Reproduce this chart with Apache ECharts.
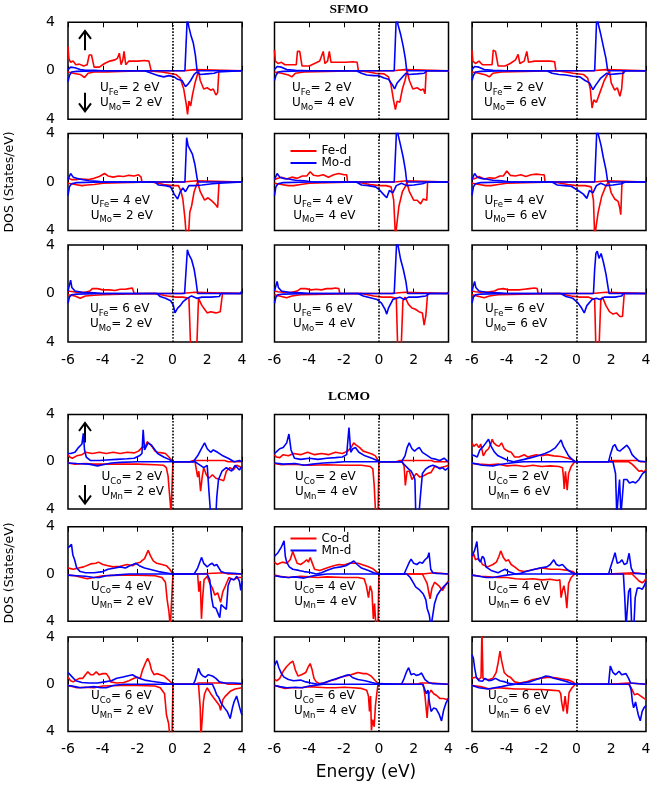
<!DOCTYPE html>
<html>
<head>
<meta charset="utf-8">
<script src="https://cdn.jsdelivr.net/npm/echarts@6/dist/echarts.min.js"></script>
<style>
html,body{margin:0;padding:0;background:#fff}
#main{width:667px;height:785px}
</style>
</head>
<body>
<div id="main"></div>
<script>
// U values along rows (first element) and columns (second element)
const uVals = [2, 4, 6];

// ---- SFMO : Fe-d (red) / Mo-d (blue), [energy, DOS], down spin negative ----
const fe22up = [[-6,2.0],[-5.95,1.0],[-5.85,0.7],[-5.7,0.8],[-5.55,0.5],[-5.35,0.55],[-5.1,0.4],[-4.9,0.5],[-4.78,1.3],[-4.65,1.3],[-4.5,0.3],[-4.2,0.3],[-3.9,0.6],[-3.6,0.8],[-3.3,0.9],[-3.15,1.05],[-3.05,1.45],[-2.95,0.5],[-2.85,0.9],[-2.78,1.6],[-2.68,0.5],[-2.5,0.8],[-2.0,0.8],[-1.6,0.85],[-1.35,0.8],[-1.22,0],[0.7,0],[0.8,0.1],[1.3,0.1],[1.4,0],[4,0]];
const fe22dn = [[-6,-0.1],[-5.7,-0.2],[-5.3,-0.3],[-5.05,-0.55],[-4.85,-0.2],[-4.5,-0.1],[-3.8,-0.1],[-3,-0.05],[-1.5,0],[-0.6,-0.1],[-0.2,-0.2],[0.2,-0.3],[0.45,-0.6],[0.65,-1.5],[0.8,-2.8],[0.87,-3.6],[0.95,-2.5],[1.05,-2.9],[1.15,-2.0],[1.3,-1.0],[1.5,0],[1.6,-0.8],[1.8,-1.5],[2.0,-1.4],[2.2,-1.6],[2.35,-1.5],[2.5,-2.0],[2.6,-1.8],[2.67,0],[4,0]];
const mo22up = [[-6,0.1],[-5.85,0.3],[-5.6,0.25],[-5.3,0.1],[-5,0.05],[-4.5,0.05],[-4,0],[0.72,0],[0.85,4.3],[0.95,3.6],[1.05,3.0],[1.2,2.3],[1.32,1.3],[1.42,0],[3.95,0],[4,0.1]];
const mo22dn = [[-6,-0.9],[-5.92,-0.4],[-5.8,-0.1],[-5.5,-0.05],[-4,0],[-1.6,0],[-1.2,-0.2],[-0.8,-0.4],[-0.5,-0.5],[-0.2,-0.4],[0.1,-0.5],[0.3,-0.7],[0.55,-0.8],[0.75,-1.3],[0.9,-1.1],[1.05,-0.8],[1.25,-0.3],[1.4,-0.1],[1.6,-0.3],[2.0,-0.25],[2.4,-0.2],[2.6,-0.1],[2.7,0],[4,0]];

const fe24up = [[-6,1.7],[-5.95,0.8],[-5.8,0.6],[-5.6,0.7],[-5.4,0.5],[-5.0,0.5],[-4.75,0.5],[-4.68,1.6],[-4.55,1.6],[-4.42,0.4],[-4.0,0.4],[-3.7,0.6],[-3.4,0.8],[-3.2,1.6],[-3.1,0.6],[-2.95,0.8],[-2.85,1.6],[-2.75,0.7],[-2.4,0.7],[-1.9,0.7],[-1.5,0.75],[-1.25,0.7],[-1.18,0],[0.8,0],[0.9,0.1],[1.5,0.1],[1.6,0],[4,0]];
const fe24dn = [[-6,-0.1],[-5.6,-0.2],[-5.2,-0.35],[-5.0,-0.5],[-4.8,-0.2],[-4.3,-0.1],[-3,-0.05],[-1.2,0],[-0.6,-0.1],[-0.2,-0.2],[0.3,-0.25],[0.55,-0.5],[0.7,-1.2],[0.85,-2.5],[0.95,-3.2],[1.05,-2.5],[1.2,-2.6],[1.35,-1.5],[1.5,-0.8],[1.62,0],[1.75,-0.8],[1.95,-1.5],[2.2,-1.4],[2.4,-1.6],[2.55,-1.5],[2.65,-1.9],[2.72,0],[4,0]];
const mo24up = [[-6,0.1],[-5.85,0.35],[-5.6,0.3],[-5.3,0.1],[-4.8,0.05],[-4,0],[0.88,0],[1.0,4.5],[1.1,3.8],[1.25,3.0],[1.4,2.0],[1.52,1.0],[1.6,0],[4,0]];
const mo24dn = [[-6,-0.8],[-5.92,-0.4],[-5.8,-0.1],[-5.5,-0.05],[-4,0],[-1.3,0],[-1.0,-0.2],[-0.7,-0.35],[-0.3,-0.4],[0,-0.4],[0.3,-0.6],[0.55,-0.7],[0.8,-1.2],[0.9,-1.5],[1.05,-1.0],[1.3,-0.6],[1.55,-0.2],[1.7,-0.3],[2.2,-0.25],[2.6,-0.2],[2.75,0],[4,0]];

const fe26up = [[-6,1.7],[-5.95,0.8],[-5.8,0.6],[-5.6,0.8],[-5.4,0.5],[-5.0,0.5],[-4.85,0.5],[-4.78,1.7],[-4.65,1.6],[-4.5,0.4],[-4.1,0.4],[-3.8,0.6],[-3.5,0.9],[-3.35,1.35],[-3.25,0.6],[-3.0,0.8],[-2.85,1.6],[-2.75,0.7],[-2.4,0.8],[-1.9,0.8],[-1.5,0.8],[-1.25,0.75],[-1.18,0],[0.9,0],[1.0,0.1],[1.7,0.1],[1.8,0],[4,0]];
const fe26dn = [[-6,-0.1],[-5.6,-0.2],[-5.2,-0.35],[-5.0,-0.5],[-4.8,-0.2],[-4.3,-0.1],[-3,-0.05],[-1.2,0],[-0.6,-0.1],[-0.2,-0.2],[0.4,-0.3],[0.65,-0.6],[0.8,-1.5],[0.9,-3.07],[1.0,-2.4],[1.15,-2.6],[1.35,-1.8],[1.6,-0.8],[1.9,0],[2.0,-1.0],[2.2,-1.6],[2.35,-1.4],[2.5,-2.1],[2.6,-1.5],[2.68,0],[4,0]];
const mo26up = [[-6,0.1],[-5.85,0.35],[-5.6,0.3],[-5.3,0.1],[-4.8,0.05],[-4,0],[1.05,0],[1.17,4.5],[1.27,3.8],[1.4,3.0],[1.55,2.0],[1.7,1.0],[1.8,0],[4,0]];
const mo26dn = [[-6,-0.8],[-5.92,-0.4],[-5.8,-0.1],[-5.5,-0.05],[-4,0],[-1.7,0],[-1.4,-0.2],[-1.0,-0.3],[-0.6,-0.35],[-0.2,-0.45],[0.2,-0.5],[0.5,-0.8],[0.75,-1.0],[0.95,-1.55],[1.1,-1.2],[1.4,-0.6],[1.75,-0.2],[1.9,-0.3],[2.3,-0.25],[2.7,-0.2],[2.8,0],[4,0]];

const fe42up = [[-6,0.3],[-5.8,0.2],[-5.5,0.2],[-5.2,0.25],[-4.8,0.2],[-4.5,0.3],[-4.2,0.45],[-3.9,0.7],[-3.7,0.5],[-3.4,0.4],[-3.1,0.5],[-2.8,0.45],[-2.5,0.55],[-2.2,0.5],[-1.95,0.6],[-1.8,0.4],[-1.75,0],[0.6,0],[0.7,0.1],[1.4,0.1],[1.5,0],[4,0]];
const fe42dn = [[-6,-0.1],[-5.6,-0.2],[-5.2,-0.3],[-4.9,-0.25],[-4.5,-0.2],[-4,-0.1],[-3,-0.05],[-1.2,0],[-0.5,-0.2],[0,-0.3],[0.35,-0.3],[0.5,-0.8],[0.6,-1.4],[0.72,-3.0],[0.8,-4.5],[0.92,-4.5],[1.0,-2.5],[1.1,-2.0],[1.25,-0.8],[1.35,-0.4],[1.45,0],[1.6,-0.8],[1.85,-1.5],[2.05,-1.3],[2.3,-1.6],[2.5,-1.9],[2.6,-2.1],[2.68,0],[4,0]];
const mo42up = [[-6,0.2],[-5.85,0.7],[-5.7,0.4],[-5.5,0.3],[-5.2,0.2],[-4.8,0.1],[-4.3,0.05],[-4,0],[0.72,0],[0.82,3.65],[0.9,3.0],[1.0,2.9],[1.15,2.3],[1.3,1.4],[1.42,0.3],[1.47,0],[3.95,0],[4,0.1]];
const mo42dn = [[-6,-1.1],[-5.92,-0.4],[-5.8,-0.15],[-5.5,-0.05],[-4,0],[-1.0,0],[-0.8,-0.25],[-0.4,-0.3],[-0.1,-0.4],[0.1,-1.0],[0.3,-1.4],[0.45,-0.8],[0.6,-0.5],[0.75,-0.8],[0.95,-0.3],[1.3,-0.3],[1.7,-0.25],[2.3,-0.15],[2.7,-0.1],[2.8,0],[4,0]];

const fe44up = [[-6,0.2],[-5.8,0.3],[-5.6,0.4],[-5.3,0.25],[-5.0,0.4],[-4.7,0.3],[-4.4,0.5],[-4.15,0.5],[-3.95,0.85],[-3.75,0.55],[-3.5,0.5],[-3.2,0.6],[-2.9,0.4],[-2.6,0.6],[-2.3,0.7],[-2.0,0.6],[-1.85,0.6],[-1.8,0],[0.9,0],[1.0,0.1],[1.6,0.1],[1.7,0],[4,0]];
const fe44dn = [[-6,-0.1],[-5.6,-0.2],[-5.2,-0.3],[-4.9,-0.3],[-4.5,-0.2],[-4,-0.1],[-3,-0.05],[-1.3,0],[-0.5,-0.2],[0,-0.3],[0.4,-0.3],[0.7,-0.4],[0.85,-1.5],[0.95,-4.5],[1.05,-4.5],[1.15,-2.0],[1.35,-0.8],[1.55,-0.3],[1.6,0],[1.75,-0.8],[2.0,-1.5],[2.2,-1.5],[2.4,-1.8],[2.55,-1.4],[2.75,-1.5],[2.8,0],[4,0]];
const mo44up = [[-6,0.2],[-5.85,0.7],[-5.7,0.4],[-5.5,0.3],[-5.2,0.25],[-4.8,0.15],[-4.3,0.1],[-3.8,0],[0.88,0],[1.02,4.5],[1.12,3.8],[1.25,3.0],[1.4,2.0],[1.52,1.0],[1.6,0],[4,0]];
const mo44dn = [[-6,-1.1],[-5.92,-0.4],[-5.8,-0.15],[-5.5,-0.05],[-4,0],[-1.3,0],[-1.0,-0.25],[-0.6,-0.3],[-0.2,-0.4],[0,-0.6],[0.25,-1.0],[0.45,-1.3],[0.6,-0.7],[0.8,-0.9],[1.0,-0.3],[1.3,-0.1],[1.6,-0.3],[2.0,-0.25],[2.5,-0.15],[2.8,0],[4,0]];

const fe46up = [[-6,0.2],[-5.8,0.3],[-5.6,0.45],[-5.3,0.25],[-5.0,0.35],[-4.7,0.3],[-4.4,0.5],[-4.2,0.5],[-4.0,0.9],[-3.8,0.55],[-3.5,0.5],[-3.2,0.6],[-2.9,0.45],[-2.6,0.6],[-2.3,0.65],[-2.0,0.6],[-1.85,0.6],[-1.8,0],[1.0,0],[1.1,0.1],[1.8,0.1],[1.9,0],[4,0]];
const fe46dn = [[-6,-0.1],[-5.6,-0.2],[-5.2,-0.3],[-4.9,-0.3],[-4.5,-0.2],[-4,-0.1],[-3,-0.05],[-1.3,0],[-0.5,-0.2],[0,-0.3],[0.5,-0.3],[0.85,-0.4],[0.98,-1.5],[1.05,-4.5],[1.15,-4.5],[1.25,-2.5],[1.45,-1.2],[1.7,-0.3],[1.85,0],[2.0,-0.9],[2.2,-1.4],[2.4,-1.6],[2.5,-2.2],[2.55,-2.7],[2.62,0],[4,0]];
const mo46up = [[-6,0.2],[-5.85,0.7],[-5.7,0.4],[-5.5,0.3],[-5.2,0.25],[-4.8,0.15],[-4.3,0.1],[-3.8,0],[1.05,0],[1.18,4.5],[1.28,3.8],[1.42,3.0],[1.55,2.0],[1.7,1.0],[1.8,0],[4,0]];
const mo46dn = [[-6,-1.1],[-5.92,-0.4],[-5.8,-0.15],[-5.5,-0.05],[-4,0],[-1.4,0],[-1.1,-0.25],[-0.7,-0.3],[-0.3,-0.35],[0.1,-0.7],[0.4,-1.0],[0.6,-1.35],[0.75,-0.7],[0.95,-0.9],[1.15,-0.3],[1.4,-0.1],[1.7,-0.3],[2.1,-0.25],[2.6,-0.15],[2.8,0],[4,0]];

const fe62up = [[-6,0.2],[-5.9,0.1],[-5.5,0.1],[-5.0,0.1],[-4.75,0.2],[-4.6,0.4],[-4.3,0.4],[-4.0,0.3],[-3.6,0.3],[-3.3,0.25],[-3.0,0.35],[-2.7,0.35],[-2.5,0.4],[-2.3,0.45],[-2.2,0],[0.5,0],[0.6,0.1],[1.3,0.1],[1.4,0],[4,0]];
const fe62dn = [[-6,-0.1],[-5.6,-0.2],[-5.3,-0.4],[-5.0,-0.2],[-4.5,-0.15],[-4,-0.1],[-3,-0.05],[-1,0],[-0.3,-0.2],[0.2,-0.3],[0.6,-0.3],[0.95,-0.4],[1.05,-4.5],[1.4,-4.5],[1.5,-0.4],[1.55,-0.3],[1.7,-1.0],[1.85,-1.3],[2.0,-1.6],[2.2,-1.5],[2.5,-1.6],[2.75,-1.5],[2.88,0],[4,0]];
const mo62up = [[-6,0.2],[-5.85,1.1],[-5.78,0.5],[-5.6,0.2],[-5.2,0.1],[-4.5,0.05],[-4,0],[0.7,0],[0.86,3.6],[0.95,3.2],[1.1,2.8],[1.25,2.0],[1.35,1.1],[1.45,0],[3.9,0],[4,0.2]];
const mo62dn = [[-6,-0.8],[-5.92,-0.3],[-5.8,-0.1],[-5.5,-0.05],[-4,0],[-0.9,0],[-0.7,-0.25],[-0.4,-0.4],[-0.1,-0.6],[0.05,-0.95],[0.15,-1.6],[0.3,-1.2],[0.45,-1.0],[0.6,-0.7],[0.85,-0.4],[1.1,-0.2],[1.4,-0.4],[1.7,-0.3],[2.2,-0.3],[2.7,-0.25],[2.78,0],[4,0]];

const fe64up = [[-6,0.2],[-5.8,0.15],[-5.5,0.1],[-5.0,0.1],[-4.7,0.2],[-4.5,0.4],[-4.2,0.4],[-3.9,0.3],[-3.6,0.35],[-3.3,0.3],[-3.0,0.4],[-2.7,0.4],[-2.5,0.45],[-2.3,0.4],[-2.25,0],[0.7,0],[0.8,0.1],[1.5,0.1],[1.6,0],[4,0]];
const fe64dn = [[-6,-0.1],[-5.6,-0.25],[-5.3,-0.35],[-5.0,-0.2],[-4.5,-0.1],[-3,-0.05],[-1,0],[-0.3,-0.2],[0.2,-0.3],[0.7,-0.3],[1.0,-0.4],[1.08,-4.5],[1.28,-4.5],[1.38,-0.6],[1.5,-0.3],[1.7,-0.9],[1.9,-1.2],[2.1,-1.3],[2.3,-1.5],[2.5,-1.6],[2.6,-2.6],[2.7,-1.8],[2.8,0],[4,0]];
const mo64up = [[-6,0.2],[-5.85,1.0],[-5.78,0.5],[-5.6,0.2],[-5.2,0.1],[-4.5,0.05],[-4,0],[0.88,0],[1.03,4.5],[1.12,3.8],[1.25,2.8],[1.4,2.0],[1.55,1.0],[1.65,0],[3.9,0],[4,0.1]];
const mo64dn = [[-6,-0.8],[-5.92,-0.3],[-5.8,-0.1],[-5.5,-0.05],[-4,0],[-1.2,0],[-0.9,-0.2],[-0.5,-0.35],[-0.1,-0.5],[0.15,-0.8],[0.35,-1.3],[0.45,-1.7],[0.55,-1.2],[0.8,-0.5],[1.0,-0.4],[1.2,-0.3],[1.45,-0.5],[1.7,-0.3],[2.2,-0.3],[2.7,-0.2],[2.9,0],[4,0]];

const fe66up = [[-6,0.2],[-5.8,0.15],[-5.5,0.1],[-5.0,0.15],[-4.7,0.2],[-4.5,0.35],[-4.2,0.4],[-3.9,0.3],[-3.6,0.3],[-3.3,0.3],[-3.0,0.35],[-2.7,0.4],[-2.4,0.45],[-2.25,0.4],[-2.2,0],[0.9,0],[1.0,0.1],[1.7,0.1],[1.8,0],[4,0]];
const fe66dn = [[-6,-0.1],[-5.6,-0.25],[-5.3,-0.35],[-5.0,-0.2],[-4.5,-0.1],[-3,-0.05],[-1,0],[-0.3,-0.2],[0.2,-0.3],[0.7,-0.3],[1.05,-0.5],[1.12,-4.5],[1.3,-4.5],[1.4,-0.6],[1.5,-0.3],[1.7,-1.0],[1.9,-1.5],[2.1,-1.7],[2.3,-1.6],[2.5,-1.9],[2.65,-1.9],[2.75,0],[4,0]];
const mo66up = [[-6,0.2],[-5.85,1.0],[-5.78,0.5],[-5.6,0.2],[-5.2,0.1],[-4.5,0.05],[-4,0],[0.98,0],[1.05,2.0],[1.12,3.3],[1.2,3.5],[1.3,2.9],[1.42,3.3],[1.55,2.6],[1.7,1.6],[1.82,0.5],[1.88,0],[4,0]];
const mo66dn = [[-6,-0.8],[-5.92,-0.3],[-5.8,-0.1],[-5.5,-0.05],[-4,0],[-0.9,0],[-0.6,-0.25],[-0.2,-0.4],[0.1,-0.8],[0.3,-1.2],[0.45,-1.6],[0.6,-1.0],[0.9,-0.5],[1.15,-0.4],[1.35,-0.5],[1.6,-0.3],[2.2,-0.3],[2.6,-0.2],[2.7,0],[4,0]];

// ---- LCMO : Co-d (red) / Mn-d (blue) ----
const co22up = [[-6,0.6],[-5.9,0.4],[-5.75,0.3],[-5.5,0.5],[-5.2,0.6],[-5.0,0.8],[-4.6,0.7],[-4.2,0.8],[-3.8,0.7],[-3.4,0.8],[-3.0,0.7],[-2.6,0.8],[-2.2,0.75],[-1.95,0.9],[-1.75,1.2],[-1.55,1.3],[-1.45,1.7],[-1.3,1.5],[-1.18,1.3],[-1.0,0.9],[-0.85,0.8],[-0.6,0.75],[-0.4,0.7],[-0.2,0.4],[0.03,0],[1.0,0],[1.2,0.1],[3.0,0.1],[3.2,0],[4,0]];
const co22dn = [[-6,-0.1],[-5.6,-0.2],[-5.0,-0.15],[-4.5,-0.2],[-4.0,-0.2],[-3.0,-0.2],[-2.0,-0.2],[-1.0,-0.25],[-0.5,-0.3],[-0.35,-0.5],[-0.25,-1.2],[-0.18,-2.5],[-0.12,-3.5],[-0.08,-4.5],[-0.02,-4.5],[0.03,0],[1.3,0],[1.45,-1.3],[1.52,-0.8],[1.62,-2.5],[1.72,-1.2],[1.8,-0.5],[1.95,-1.1],[2.1,-1.4],[2.3,-1.1],[2.5,-1.4],[2.75,-1.5],[2.95,-1.6],[3.1,-0.8],[3.3,-0.5],[3.5,-0.7],[3.7,-0.3],[4,-0.5]];
const mn22up = [[-6,0.7],[-5.85,0.7],[-5.6,0.8],[-5.4,1.2],[-5.2,1.5],[-5.12,2.4],[-5.05,1.0],[-4.95,0.4],[-4.7,0.1],[-4.2,0.1],[-3.8,0.15],[-3.2,0.2],[-2.6,0.25],[-2.2,0.3],[-1.9,0.5],[-1.75,0.7],[-1.68,2.7],[-1.6,1.0],[-1.5,1.3],[-1.4,1.6],[-1.2,1.4],[-0.85,0.7],[-0.5,0.4],[-0.2,0.2],[0.03,0],[1.2,0],[1.45,0.5],[1.7,1.2],[1.85,1.6],[2.0,1.1],[2.2,0.8],[2.35,1.0],[2.45,1.1],[2.6,0.8],[2.9,0.5],[3.2,0.3],[3.55,0],[3.85,0.1],[4,0]];
const mn22dn = [[-6,-0.1],[-5.5,-0.15],[-4.8,-0.2],[-4.3,-0.35],[-4.0,-0.25],[-3.5,-0.1],[-3.0,-0.05],[-2,0],[1.3,0],[1.5,-0.2],[1.8,-0.5],[2.0,-0.3],[2.1,-2.5],[2.2,-4.5],[2.5,-4.5],[2.55,-3.0],[2.65,-1.5],[2.85,-0.8],[3.1,-0.5],[3.4,-0.8],[3.6,-0.3],[3.85,-0.7],[4,-0.4]];

const co24up = [[-6,0.6],[-5.9,0.4],[-5.7,0.35],[-5.5,0.6],[-5.2,0.5],[-4.9,0.7],[-4.5,0.6],[-4.1,0.8],[-3.7,0.6],[-3.3,0.7],[-2.9,0.6],[-2.5,0.8],[-2.1,0.7],[-1.8,0.9],[-1.6,1.2],[-1.45,1.6],[-1.3,1.4],[-1.1,1.2],[-0.9,0.9],[-0.7,0.8],[-0.4,0.65],[-0.2,0.5],[0,0],[1.0,0],[1.2,0.1],[3.0,0.1],[3.2,0],[4,0]];
const co24dn = [[-6,-0.15],[-5.6,-0.25],[-5.0,-0.2],[-4.5,-0.25],[-4.0,-0.3],[-3.0,-0.25],[-2.0,-0.3],[-1.0,-0.3],[-0.5,-0.4],[-0.35,-0.6],[-0.27,-2.0],[-0.22,-3.5],[-0.18,-4.5],[-0.05,-4.5],[0,0],[1.35,0],[1.45,-0.4],[1.52,-2.0],[1.62,-0.8],[1.75,-0.8],[1.9,-1.5],[2.0,-1.3],[2.15,-1.0],[2.35,-1.3],[2.55,-1.2],[2.8,-1.0],[3.0,-0.9],[3.2,-0.4],[3.5,-0.5],[3.8,-0.4],[4,-0.3]];
const mn24up = [[-6,0.7],[-5.85,0.9],[-5.7,1.1],[-5.5,1.2],[-5.3,1.6],[-5.17,2.35],[-5.05,1.0],[-4.85,0.3],[-4.5,0.2],[-4.0,0.3],[-3.5,0.2],[-3.0,0.3],[-2.5,0.35],[-2.1,0.4],[-1.85,0.6],[-1.72,2.9],[-1.62,0.8],[-1.5,1.1],[-1.35,1.2],[-1.15,0.8],[-0.8,0.5],[-0.4,0.3],[-0.1,0.1],[0.05,0],[1.3,0],[1.5,0.5],[1.62,1.2],[1.74,1.6],[1.9,1.1],[2.05,0.9],[2.2,1.1],[2.33,1.2],[2.5,0.8],[2.7,0.6],[3.0,0.3],[3.3,0.2],[3.5,0.1],[3.75,0.3],[3.9,0.1],[4,0]];
const mn24dn = [[-6,-0.1],[-5.5,-0.2],[-4.8,-0.15],[-4.3,-0.3],[-3.8,-0.2],[-3.2,-0.1],[-2.5,-0.05],[-2,0],[1.3,0],[1.5,-0.3],[1.7,-0.6],[1.85,-0.8],[2.0,-1.2],[2.07,-1.5],[2.12,-4.5],[2.3,-4.5],[2.38,-3.0],[2.5,-1.0],[2.7,-0.6],[2.9,-0.4],[3.1,-0.3],[3.3,-0.4],[3.5,-0.6],[3.65,-0.5],[3.82,-0.7],[4,-0.5]];

const co26up = [[-6,1.6],[-5.9,1.3],[-5.75,1.5],[-5.6,1.2],[-5.5,1.5],[-5.35,0.5],[-5.2,0.9],[-5.05,1.1],[-4.9,1.6],[-4.84,1.9],[-4.75,1.6],[-4.6,1.4],[-4.45,1.3],[-4.3,1.6],[-4.15,1.1],[-3.95,0.9],[-3.75,0.8],[-3.55,0.4],[-3.3,0.4],[-3.0,0.6],[-2.8,0.4],[-2.55,0.5],[-2.3,0.6],[-2.0,0.5],[-1.7,0.6],[-1.3,0.5],[-0.9,0.45],[-0.5,0.3],[-0.25,0.2],[-0.08,0],[1.8,0],[2.0,0.1],[3.5,0.1],[3.7,0],[4,0]];
const co26dn = [[-6,-0.15],[-5.6,-0.2],[-5.0,-0.25],[-4.5,-0.2],[-4.0,-0.35],[-3.5,-0.3],[-3.0,-0.4],[-2.5,-0.3],[-2.0,-0.4],[-1.5,-0.35],[-1.0,-0.4],[-0.8,-0.5],[-0.75,-1.2],[-0.7,-2.3],[-0.63,-0.8],[-0.53,-2.4],[-0.45,-1.0],[-0.3,-0.4],[-0.1,0],[3.0,0],[3.2,-0.2],[3.4,-0.5],[3.6,-0.8],[3.75,-0.75],[3.9,-0.9],[4,-0.6]];
const mn26up = [[-6,0.6],[-5.85,0.5],[-5.7,0.4],[-5.55,1.0],[-5.35,1.3],[-5.2,1.6],[-5.05,1.9],[-4.9,1.3],[-4.7,0.8],[-4.5,0.5],[-4.2,0.3],[-3.9,0.1],[-3.6,0],[-3.3,0.1],[-3.0,0.2],[-2.6,0.35],[-2.2,0.5],[-1.8,0.7],[-1.5,0.9],[-1.2,1.2],[-1.0,1.6],[-0.88,1.85],[-0.75,1.3],[-0.6,0.9],[-0.45,0.5],[-0.25,0.2],[-0.05,0],[1.85,0],[1.95,0.6],[2.1,1.3],[2.22,1.45],[2.35,1.0],[2.5,0.9],[2.65,1.1],[2.9,1.4],[3.05,1.1],[3.2,0.6],[3.4,0.3],[3.6,0.05],[4,0]];
const mn26dn = [[-6,-0.1],[-5.7,-0.2],[-5.4,-0.3],[-4.8,-0.35],[-4.5,-0.25],[-4.0,-0.15],[-3.5,-0.05],[-3,0],[2.1,0],[2.25,-1.0],[2.32,-4.5],[2.4,-4.5],[2.48,-1.5],[2.56,-4.5],[2.66,-4.5],[2.72,-1.5],[2.9,-1.5],[3.05,-1.8],[3.25,-1.7],[3.4,-1.8],[3.6,-1.5],[3.8,-1.0],[4,-0.8]];

const co42up = [[-6,0.5],[-5.85,0.45],[-5.7,0.4],[-5.4,0.5],[-5.1,0.6],[-4.7,0.85],[-4.4,0.9],[-4.25,1.0],[-4.0,0.8],[-3.7,0.7],[-3.4,0.6],[-3.0,0.65],[-2.6,0.8],[-2.3,0.7],[-2.05,0.9],[-1.85,1.0],[-1.6,1.3],[-1.45,1.8],[-1.39,2.0],[-1.25,1.5],[-1.1,1.1],[-0.9,0.9],[-0.6,0.8],[-0.35,0.7],[-0.15,0.4],[0.03,0],[1.4,0],[1.5,0.1],[3.0,0.1],[3.2,0],[4,0]];
const co42dn = [[-6,-0.1],[-5.6,-0.15],[-5.2,-0.3],[-4.9,-0.4],[-4.5,-0.3],[-4.0,-0.15],[-3.0,-0.1],[-2.0,-0.1],[-1.0,-0.15],[-0.6,-0.3],[-0.4,-0.7],[-0.3,-2.2],[-0.2,-3.2],[-0.12,-4.5],[-0.02,-4.5],[0.03,0],[1.45,0],[1.52,-1.5],[1.6,-0.6],[1.67,-3.8],[1.74,-2.0],[1.82,-0.5],[2.0,-0.2],[2.15,-0.8],[2.3,-1.2],[2.44,-1.8],[2.6,-1.6],[2.77,-2.4],[2.9,-1.5],[3.05,-1.0],[3.25,-0.3],[3.5,-0.5],[3.75,-0.3],[4,-0.3]];
const mn42up = [[-6,2.2],[-5.9,2.3],[-5.8,2.5],[-5.72,1.6],[-5.62,1.2],[-5.5,0.5],[-5.3,0.2],[-5.0,0.1],[-4.5,0.1],[-4.0,0.2],[-3.7,0.4],[-3.3,0.5],[-3.0,0.6],[-2.7,0.5],[-2.45,0.7],[-2.27,0.8],[-2.1,0.9],[-1.9,0.7],[-1.6,0.5],[-1.2,0.35],[-0.8,0.2],[-0.4,0.1],[0,0],[1.25,0],[1.45,0.5],[1.6,1.1],[1.68,1.4],[1.8,0.9],[2.0,0.6],[2.15,0.8],[2.29,0.9],[2.4,0.7],[2.55,0.8],[2.66,0.9],[2.8,0.2],[3.0,0.1],[3.5,0.05],[4,0]];
const mn42dn = [[-6,-0.1],[-5.5,-0.15],[-5.0,-0.2],[-4.5,-0.3],[-4.2,-0.3],[-3.8,-0.15],[-3.3,-0.1],[-2.5,0],[2.0,0],[2.15,-0.5],[2.25,-2.0],[2.35,-2.8],[2.5,-2.9],[2.6,-3.0],[2.72,-3.7],[2.8,-2.6],[2.95,-2.8],[3.1,-3.0],[3.2,-1.0],[3.35,-0.4],[3.55,-0.5],[3.7,-0.2],[3.85,-0.6],[3.93,-1.4],[4,-0.6]];

const co44up = [[-6,1.0],[-5.85,0.8],[-5.7,0.9],[-5.55,1.0],[-5.3,0.9],[-5.1,1.2],[-4.95,1.9],[-4.85,1.5],[-4.7,0.9],[-4.5,0.8],[-4.3,1.0],[-4.15,1.2],[-4.05,1.0],[-3.95,1.4],[-3.85,1.0],[-3.7,0.4],[-3.4,0.3],[-3.0,0.5],[-2.6,0.7],[-2.3,0.8],[-2.0,0.75],[-1.7,0.9],[-1.4,0.9],[-1.2,0.9],[-0.9,0.75],[-0.6,0.6],[-0.35,0.45],[-0.15,0.2],[0,0],[2.5,0],[2.6,0.1],[3.2,0.1],[3.3,0],[4,0]];
const co44dn = [[-6,-0.1],[-5.7,-0.2],[-5.2,-0.3],[-4.5,-0.2],[-4.0,-0.25],[-3.5,-0.3],[-3.0,-0.25],[-2.0,-0.3],[-1.2,-0.3],[-0.85,-0.4],[-0.72,-1.0],[-0.6,-2.0],[-0.5,-1.0],[-0.4,-1.5],[-0.32,-3.8],[-0.25,-2.5],[-0.17,-4.5],[-0.05,-4.5],[0,0],[2.5,0],[2.6,-0.3],[2.77,-0.8],[2.94,-2.1],[3.05,-1.2],[3.2,-0.7],[3.45,-1.0],[3.65,-1.4],[3.85,-0.9],[4,-0.6]];
const mn44up = [[-6,1.5],[-5.8,1.8],[-5.6,2.3],[-5.45,2.8],[-5.38,1.5],[-5.3,1.0],[-5.15,0.6],[-4.95,0.4],[-4.6,0.3],[-4.3,0.2],[-4.0,0.15],[-3.6,0],[-3.3,0.1],[-3.0,0.3],[-2.6,0.5],[-2.2,0.6],[-1.9,0.7],[-1.6,0.95],[-1.44,1.1],[-1.25,0.8],[-1.0,0.5],[-0.6,0.3],[-0.3,0.1],[0,0],[1.45,0],[1.6,0.5],[1.75,1.0],[1.85,1.25],[2.0,0.9],[2.18,0.8],[2.35,1.0],[2.5,0.9],[2.65,1.2],[2.8,1.4],[2.88,1.8],[2.98,0.4],[3.1,0.1],[3.3,0.05],[4,0]];
const mn44dn = [[-6,-0.15],[-5.6,-0.25],[-5.2,-0.3],[-4.8,-0.25],[-4.3,-0.35],[-3.9,-0.2],[-3.5,-0.1],[-3,0],[1.6,0],[1.8,-0.3],[2.0,-0.8],[2.11,-1.1],[2.3,-1.3],[2.55,-1.7],[2.7,-2.2],[2.77,-2.9],[2.9,-3.5],[2.99,-4.5],[3.05,-4.5],[3.2,-2.5],[3.35,-1.8],[3.53,-1.4],[3.76,-1.0],[4,-0.7]];

const co46up = [[-6,1.4],[-5.9,1.7],[-5.8,1.2],[-5.65,1.3],[-5.5,1.1],[-5.4,0.8],[-5.1,0.6],[-4.8,0.8],[-4.6,1.0],[-4.45,1.5],[-4.35,1.95],[-4.2,1.4],[-4.05,1.1],[-3.9,1.2],[-3.75,0.8],[-3.55,0.6],[-3.3,0.3],[-3.0,0.2],[-2.7,0.3],[-2.4,0.4],[-2.0,0.5],[-1.5,0.4],[-1.0,0.4],[-0.5,0.3],[-0.2,0.2],[-0.05,0],[1.8,0],[1.9,0.1],[3.3,0.1],[3.4,0],[4,0]];
const co46dn = [[-6,-0.1],[-5.5,-0.2],[-5.0,-0.25],[-4.5,-0.3],[-4.0,-0.3],[-3.5,-0.4],[-3.0,-0.45],[-2.5,-0.4],[-2.0,-0.5],[-1.5,-0.45],[-1.1,-0.55],[-0.95,-0.5],[-0.88,-2.0],[-0.8,-1.4],[-0.72,-1.0],[-0.62,-1.8],[-0.55,-2.9],[-0.45,-0.8],[-0.3,-0.3],[-0.1,0],[3.2,0],[3.4,-0.3],[3.6,-0.6],[3.78,-0.75],[3.9,-0.6],[4,-0.4]];
const mn46up = [[-6,1.5],[-5.85,2.0],[-5.72,2.75],[-5.62,1.2],[-5.52,1.0],[-5.4,1.5],[-5.3,1.3],[-5.2,0.6],[-4.9,0.3],[-4.5,0.1],[-4.25,0.3],[-4.1,0.4],[-3.9,0.2],[-3.5,0],[-3.2,0.05],[-2.9,0.2],[-2.5,0.35],[-2.1,0.5],[-1.7,0.6],[-1.5,0.8],[-1.3,1.2],[-1.15,0.8],[-1.0,0.7],[-0.8,0.8],[-0.55,0.4],[-0.25,0.1],[0,0],[1.85,0],[1.95,0.5],[2.1,1.2],[2.22,1.8],[2.35,0.9],[2.5,1.0],[2.62,1.2],[2.75,0.8],[2.9,0.9],[3.03,1.75],[3.15,0.5],[3.3,0.05],[3.4,0],[4,0]];
const mn46dn = [[-6,-0.1],[-5.6,-0.2],[-5.2,-0.3],[-4.8,-0.3],[-4.4,-0.2],[-4.0,-0.1],[-3.5,0],[2.7,0],[2.78,-2.0],[2.85,-4.5],[2.95,-4.5],[3.0,-1.5],[3.1,-1.2],[3.18,-4.5],[3.3,-4.5],[3.38,-2.0],[3.5,-1.2],[3.65,-1.2],[3.78,-1.3],[3.9,-1.0],[4,-0.6]];

const co62up = [[-6,0.6],[-5.85,0.3],[-5.7,0.2],[-5.55,0.35],[-5.35,0.5],[-5.15,0.5],[-5.0,0.8],[-4.86,1.05],[-4.7,0.8],[-4.55,0.8],[-4.38,1.05],[-4.2,0.8],[-4.0,0.9],[-3.8,0.9],[-3.65,0.6],[-3.55,0.2],[-3.2,0.1],[-2.8,0.15],[-2.5,0.3],[-2.2,0.5],[-2.0,0.6],[-1.85,0.5],[-1.72,1.2],[-1.55,1.8],[-1.42,2.2],[-1.3,1.8],[-1.2,1.2],[-1.05,0.8],[-0.9,0.9],[-0.7,0.8],[-0.5,0.7],[-0.25,0.4],[0.03,0],[1.3,0],[1.5,0.1],[3.0,0.1],[3.2,0],[4,0]];
const co62dn = [[-6,-0.1],[-5.7,-0.2],[-5.5,-0.3],[-5.0,-0.25],[-4.5,-0.3],[-4.0,-0.15],[-3.0,-0.1],[-2.0,-0.1],[-1.0,-0.15],[-0.7,-0.3],[-0.45,-0.8],[-0.34,-2.6],[-0.22,-3.3],[-0.14,-4.5],[-0.02,-4.5],[0.03,0],[1.5,0],[1.6,-2.0],[1.64,-4.5],[1.72,-4.5],[1.78,-1.5],[1.85,-0.8],[2.0,-0.3],[2.2,-0.8],[2.4,-1.2],[2.55,-1.5],[2.7,-1.8],[2.77,-2.2],[2.9,-1.3],[3.05,-1.0],[3.32,-0.6],[3.6,-0.4],[4,-0.3]];
const mn62up = [[-6,1.0],[-5.9,1.0],[-5.75,0.6],[-5.55,0.3],[-5.2,0.15],[-4.8,0.1],[-4.3,0.1],[-3.9,0.2],[-3.5,0.3],[-3.2,0.5],[-2.9,0.6],[-2.6,0.7],[-2.5,0.85],[-2.3,0.8],[-2.0,0.55],[-1.6,0.35],[-1.2,0.25],[-0.7,0.15],[-0.3,0.05],[0,0],[1.2,0],[1.3,0.3],[1.42,0.9],[1.5,1.35],[1.62,0.9],[1.75,0.7],[1.9,0.6],[2.05,0.8],[2.16,0.95],[2.3,0.7],[2.5,0.5],[2.7,0.2],[3.0,0.1],[3.5,0.1],[4,0.05]];
const mn62dn = [[-6,-0.1],[-5.6,-0.2],[-5.3,-0.3],[-4.9,-0.25],[-4.5,-0.2],[-4.1,-0.3],[-3.8,-0.3],[-3.4,-0.1],[-2.8,0],[2.3,0],[2.45,-0.5],[2.55,-0.9],[2.66,-1.1],[2.8,-1.6],[2.99,-2.0],[3.15,-2.3],[3.32,-2.9],[3.45,-2.0],[3.54,-1.5],[3.69,-1.0],[3.8,-1.6],[3.87,-2.0],[3.95,-2.4],[4,-2.6]];

const co64up = [[-6,0.4],[-5.85,0.3],[-5.7,0.5],[-5.5,1.1],[-5.3,1.5],[-5.1,1.8],[-4.94,1.96],[-4.8,1.2],[-4.65,0.7],[-4.45,0.8],[-4.2,1.0],[-4.05,1.5],[-3.95,1.75],[-3.85,1.3],[-3.73,0.5],[-3.6,0.2],[-3.4,0.05],[-3.1,0.1],[-2.8,0.3],[-2.5,0.4],[-2.2,0.6],[-1.9,0.7],[-1.6,0.8],[-1.4,0.9],[-1.2,1.0],[-0.9,0.9],[-0.7,0.9],[-0.45,0.7],[-0.2,0.3],[0,0],[2.2,0],[2.4,0.1],[3.0,0.1],[3.1,0],[4,0]];
const co64dn = [[-6,-0.1],[-5.75,-0.2],[-5.4,-0.35],[-5.0,-0.3],[-4.5,-0.3],[-4.0,-0.2],[-3.5,-0.25],[-3.0,-0.3],[-2.5,-0.3],[-2.0,-0.25],[-1.5,-0.3],[-1.0,-0.35],[-0.7,-0.5],[-0.6,-1.0],[-0.54,-2.3],[-0.48,-1.0],[-0.43,-3.9],[-0.36,-3.0],[-0.27,-3.6],[-0.2,-1.8],[-0.12,-0.8],[-0.05,0],[2.55,0],[2.65,-1.0],[2.77,-2.86],[2.87,-0.8],[3.0,-0.5],[3.15,-0.8],[3.32,-0.95],[3.5,-1.2],[3.7,-1.2],[3.91,-1.3],[4,-1.2]];
const mn64up = [[-6,1.6],[-5.87,2.0],[-5.75,1.4],[-5.6,0.9],[-5.45,0.6],[-5.2,0.4],[-4.9,0.3],[-4.5,0.35],[-4.2,0.2],[-3.9,0.1],[-3.5,0],[-3.2,0.1],[-2.9,0.25],[-2.6,0.4],[-2.2,0.6],[-1.9,0.75],[-1.7,0.8],[-1.5,0.55],[-1.2,0.4],[-0.8,0.3],[-0.4,0.15],[-0.1,0.05],[0,0],[1.3,0],[1.45,0.5],[1.6,1.1],[1.71,1.4],[1.85,0.8],[2.0,0.9],[2.15,0.75],[2.3,0.8],[2.45,0.95],[2.55,0.8],[2.65,0.4],[2.85,0.15],[3.1,0.05],[4,0]];
const mn64dn = [[-6,-0.1],[-5.7,-0.2],[-5.3,-0.3],[-4.8,-0.25],[-4.4,-0.3],[-4.0,-0.15],[-3.5,-0.05],[-3.2,0],[2.5,0],[2.6,-0.3],[2.72,-0.8],[2.82,-0.5],[2.9,-1.5],[3.0,-2.3],[3.15,-2.0],[3.3,-2.1],[3.45,-2.5],[3.6,-3.1],[3.72,-2.2],[3.85,-1.6],[4,-1.2]];

const co66up = [[-6,0.5],[-5.8,0.6],[-5.6,0.4],[-5.48,0.6],[-5.43,4.5],[-5.37,0.5],[-5.2,0.4],[-5.0,0.4],[-4.8,0.5],[-4.61,1.0],[-4.5,1.8],[-4.39,2.8],[-4.3,2.0],[-4.15,1.0],[-3.95,0.7],[-3.8,0.6],[-3.55,0.2],[-3.25,0.1],[-2.9,0.2],[-2.5,0.4],[-2.1,0.5],[-1.6,0.6],[-1.2,0.55],[-0.8,0.45],[-0.45,0.35],[-0.2,0.2],[-0.05,0],[1.9,0],[2.0,0.1],[3.0,0.1],[3.1,0],[4,0]];
const co66dn = [[-6,-0.1],[-5.5,-0.2],[-5.0,-0.4],[-4.5,-0.3],[-4.0,-0.35],[-3.5,-0.4],[-3.0,-0.4],[-2.5,-0.45],[-2.0,-0.45],[-1.5,-0.5],[-1.0,-0.55],[-0.9,-0.8],[-0.85,-1.5],[-0.75,-2.3],[-0.65,-1.0],[-0.53,-2.5],[-0.42,-0.7],[-0.25,-0.3],[-0.05,0],[3.0,0],[3.15,-0.3],[3.34,-0.9],[3.5,-0.8],[3.7,-1.0],[3.89,-1.2],[4,-1.3]];
const mn66up = [[-6,2.5],[-5.92,2.2],[-5.85,1.4],[-5.75,0.6],[-5.6,0.3],[-5.4,0.25],[-5.25,0.5],[-5.05,0.3],[-4.85,0.35],[-4.65,0.5],[-4.4,0.3],[-4.1,0.2],[-3.8,0.05],[-3.5,0],[-3.1,0.1],[-2.7,0.2],[-2.3,0.4],[-2.0,0.55],[-1.75,0.7],[-1.55,0.65],[-1.3,0.5],[-1.0,0.4],[-0.5,0.2],[-0.2,0.05],[0,0],[1.85,0],[1.9,0.8],[1.95,1.55],[2.1,1.0],[2.25,0.8],[2.45,1.1],[2.6,0.8],[2.68,0.8],[2.85,0.9],[3.0,0.5],[3.12,0.1],[3.2,0],[4,0]];
const mn66dn = [[-6,-0.1],[-5.6,-0.3],[-5.1,-0.4],[-4.7,-0.3],[-4.3,-0.2],[-3.8,-0.05],[-3.5,0],[3.05,0],[3.15,-0.5],[3.22,-1.5],[3.29,-2.0],[3.4,-1.5],[3.5,-2.2],[3.56,-2.6],[3.67,-3.1],[3.78,-2.3],[3.88,-2.0],[3.95,-2.1],[4,-1.8]];

// rows = U of first element, columns = U of second element
const sfmoData = [
  [[fe22up, fe22dn, mo22up, mo22dn], [fe24up, fe24dn, mo24up, mo24dn], [fe26up, fe26dn, mo26up, mo26dn]],
  [[fe42up, fe42dn, mo42up, mo42dn], [fe44up, fe44dn, mo44up, mo44dn], [fe46up, fe46dn, mo46up, mo46dn]],
  [[fe62up, fe62dn, mo62up, mo62dn], [fe64up, fe64dn, mo64up, mo64dn], [fe66up, fe66dn, mo66up, mo66dn]]
];
const lcmoData = [
  [[co22up, co22dn, mn22up, mn22dn], [co24up, co24dn, mn24up, mn24dn], [co26up, co26dn, mn26up, mn26dn]],
  [[co42up, co42dn, mn42up, mn42dn], [co44up, co44dn, mn44up, mn44dn], [co46up, co46dn, mn46up, mn46dn]],
  [[co62up, co62dn, mn62up, mn62dn], [co64up, co64dn, mn64up, mn64dn], [co66up, co66dn, mn66up, mn66dn]]
];

// layout
const colLeft = [68, 274.5, 472];
const panelW = 174;
const groups = [
  {title: 'SFMO', names: ['Fe-d', 'Mo-d'], el: ['Fe', 'Mo'], tops: [22.3, 133.5, 245], h: 97, data: sfmoData,
   labX: [[100, 292, 484], [90.7, 293.3, 484.5], [90, 293, 485]], labY: [88, 200.5, 309],
   titleY: 9.5, legendTop: 145, arrowTop: 22.3, dosY: 182},
  {title: 'LCMO', names: ['Co-d', 'Mn-d'], el: ['Co', 'Mn'], tops: [414.5, 526.7, 637], h: 94.5, data: lcmoData,
   labX: [[101.5, 295, 488], [91, 294.3, 488], [91, 294, 488]], labY: [477, 586.7, 696],
   titleY: 397, legendTop: 532.5, arrowTop: 414.5, dosY: 573}
];
const RED = '#ff0000', BLUE = '#0000ff';
const FONT = 'DejaVu Sans';

const grid = [], xAxis = [], yAxis = [], series = [], graphic = [], legend = [];

function lineSeries(name, color, data, gi, withMark) {
  const s = {
    name: name, type: 'line', data: data, xAxisIndex: gi * 2, yAxisIndex: gi,
    symbol: 'none', showSymbol: false, clip: true, silent: true,
    lineStyle: {color: color, width: 1.6}, itemStyle: {color: color}
  };
  if (withMark) {
    s.markLine = {
      silent: true, symbol: ['none', 'none'], label: {show: false},
      lineStyle: {color: '#000', type: 'dotted', width: 1.6},
      data: [{xAxis: 0}]
    };
  }
  return s;
}

let gi = 0;
groups.forEach(function (g, k) {
  for (let r = 0; r < 3; r++) {
    for (let c = 0; c < 3; c++) {
      grid.push({left: colLeft[c], top: g.tops[r], width: panelW, height: g.h,
        show: true, borderColor: '#000', borderWidth: 1.5, backgroundColor: 'transparent'});
      const xBase = {gridIndex: gi, type: 'value', min: -6, max: 4, interval: 2,
        axisLine: {show: false}, splitLine: {show: false},
        axisTick: {inside: true, length: 5, lineStyle: {color: '#000', width: 1}}};
      xAxis.push(Object.assign({}, xBase, {position: 'bottom',
        axisLabel: {show: r === 2, color: '#000', fontFamily: FONT, fontSize: 14, margin: 11}}));
      xAxis.push(Object.assign({}, xBase, {position: 'top', axisLabel: {show: false}}));
      yAxis.push({gridIndex: gi, type: 'value', min: -4, max: 4, interval: 4,
        axisLine: {show: false}, axisTick: {show: false}, splitLine: {show: false},
        axisLabel: {show: c === 0, color: '#000', fontFamily: FONT, fontSize: 14, margin: 13,
          formatter: function (v) { return String(Math.abs(v)); }}});

      const d = g.data[r][c];
      series.push(lineSeries(g.names[0], RED, d[0], gi, true));
      series.push(lineSeries(g.names[0], RED, d[1], gi, false));
      series.push(lineSeries(g.names[1], BLUE, d[2], gi, false));
      series.push(lineSeries(g.names[1], BLUE, d[3], gi, false));

      const rich = {
        u: {fontSize: 12, fontFamily: FONT, lineHeight: 18, fill: '#000'},
        s: {fontSize: 8.5, fontFamily: FONT, verticalAlign: 'bottom', fill: '#000'}
      };
      graphic.push({type: 'text', x: g.labX[r][c], y: g.labY[r], silent: true,
        style: {text: '{u|U}{s|' + g.el[0] + '}{u|= ' + uVals[r] + ' eV}', rich: rich, verticalAlign: 'middle', fill: '#000'}});
      graphic.push({type: 'text', x: g.labX[r][c], y: g.labY[r] + 15, silent: true,
        style: {text: '{u|U}{s|' + g.el[1] + '}{u|= ' + uVals[c] + ' eV}', rich: rich, verticalAlign: 'middle', fill: '#000'}});
      gi++;
    }
  }

  // legend sits inside the middle panel
  legend.push({data: g.names, orient: 'vertical', left: 290.5, top: g.legendTop, padding: 0,
    itemGap: 0, itemWidth: 26, itemHeight: 2, icon: 'rect', selectedMode: false,
    textStyle: {fontFamily: FONT, fontSize: 12, lineHeight: 11.5, color: '#000'}});

  // group title and axis name
  graphic.push({type: 'text', x: 349, y: g.titleY, silent: true,
    style: {text: g.title, fontFamily: 'Liberation Serif', fontWeight: 'bold', fontSize: 13.5,
      fill: '#000', align: 'center', verticalAlign: 'middle'}});
  graphic.push({type: 'text', x: 10, y: g.dosY, rotation: Math.PI / 2, silent: true,
    style: {text: 'DOS (States/eV)', fontFamily: FONT, fontSize: 12.5, fill: '#000',
      align: 'center', verticalAlign: 'middle'}});

  // spin arrows
  const t = g.arrowTop, ax = 85;
  graphic.push({type: 'line', silent: true, shape: {x1: ax, y1: t + 28, x2: ax, y2: t + 9}, style: {stroke: '#000', lineWidth: 2}});
  graphic.push({type: 'polyline', silent: true, shape: {points: [[ax - 6, t + 16.5], [ax, t + 8.5], [ax + 6, t + 16.5]]}, style: {stroke: '#000', lineWidth: 2, fill: null}});
  graphic.push({type: 'line', silent: true, shape: {x1: ax, y1: t + 70.5, x2: ax, y2: t + 89}, style: {stroke: '#000', lineWidth: 2}});
  graphic.push({type: 'polyline', silent: true, shape: {points: [[ax - 6, t + 81], [ax, t + 89], [ax + 6, t + 81]]}, style: {stroke: '#000', lineWidth: 2, fill: null}});
});

graphic.push({type: 'text', x: 366, y: 773, silent: true,
  style: {text: 'Energy (eV)', fontFamily: FONT, fontSize: 17, fill: '#000', align: 'center', verticalAlign: 'middle'}});

const chart = echarts.init(document.getElementById('main'), null, {renderer: 'canvas'});
chart.setOption({
  animation: false,
  backgroundColor: '#fff',
  grid: grid,
  xAxis: xAxis,
  yAxis: yAxis,
  legend: legend,
  series: series,
  graphic: graphic
});
</script>
</body>
</html>
